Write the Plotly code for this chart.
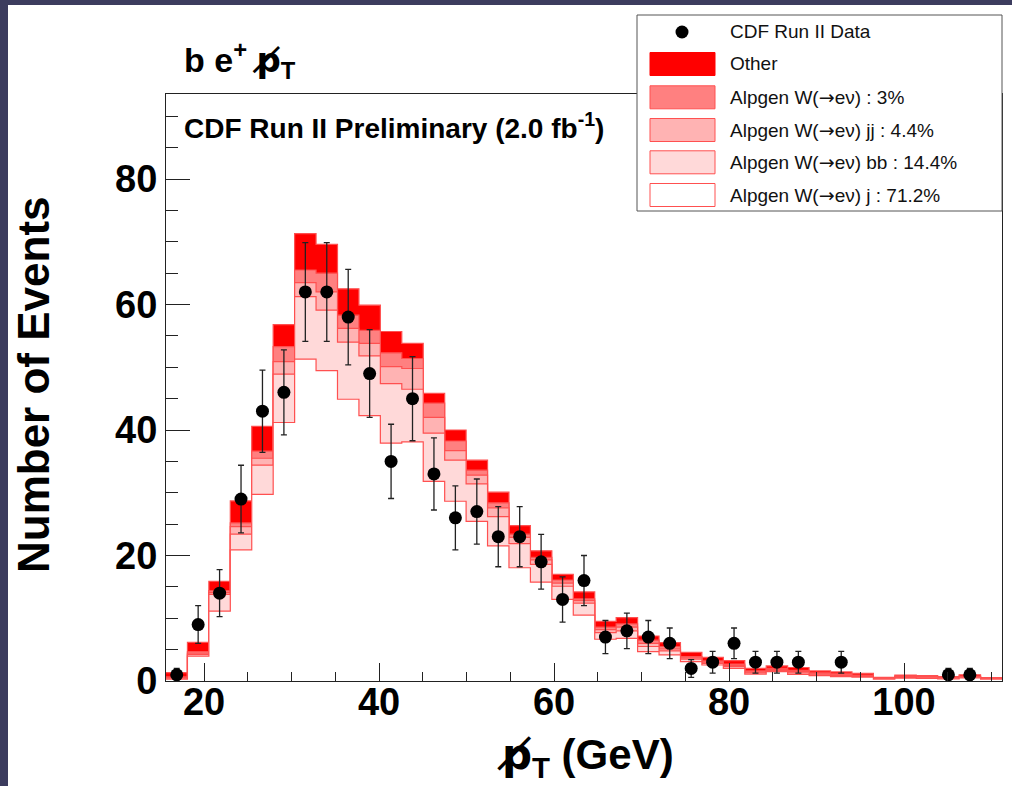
import numpy as np
import plotly.graph_objects as go

# ---- binning (missing E_T, GeV) ----
BIN_LO = 15.65
BIN_W = 2.45
N_BINS = 39
edges = [BIN_LO + BIN_W * i for i in range(N_BINS + 1)]
centers = [e + BIN_W / 2 for e in edges[:-1]]

# ---- observed events per bin ----
data_counts = [1, 9, 14, 29, 43, 46, 62, 62, 58, 49,
               35, 45, 33, 26, 27, 23, 23, 19, 13, 16,
               7, 8, 7, 6, 2, 3, 6, 3, 3, 3,
               0, 3, 0, 0, 0, 0, 1, 1, 0]

# ---- expected events per bin, by process ----
w_j = [0.3, 3.95, 11.15, 20.9, 29.75, 41.2, 51.3, 49.45, 44.9, 42.3,
       37.9, 38.1, 31.8, 28.65, 25.45, 21.55, 18.05, 15.75, 13.0, 10.5,
       6.65, 6.8, 4.67, 4.15, 3.1, 2.55, 2.0, 1.1, 1.5, 1.05,
       0.85, 0.7, 0.6, 0.3, 0.45, 0.4, 0.35, 0.5, 0.3]
w_bb = [0.15, 0.3, 2.65, 2.5, 4.65, 7.7, 9.95, 9.65, 9.1, 9.5,
        9.5, 8.4, 7.7, 6.55, 5.95, 4.65, 3.85, 2.85, 2.1, 1.9,
        1.05, 1.2, 0.83, 0.65, 0.4, 0.25, 0.3, 0.2, 0.2, 0.25,
        0.15, 0.15, 0.15, 0.05, 0.1, 0.1, 0.1, 0.1, 0.05]
w_jj = [0.1, 0.2, 0.3, 1.2, 1.1, 2.0, 2.25, 2.9, 2.2, 2.0,
        2.7, 3.3, 2.5, 1.5, 1.4, 1.4, 1.0, 0.7, 0.5, 0.4,
        0.5, 0.6, 0.5, 0.3, 0.2, 0.2, 0.2, 0.1, 0.1, 0.2,
        0.15, 0.15, 0.1, 0.05, 0.1, 0.1, 0.05, 0.1, 0.05]
w_incl = [0.1, 0.25, 0.3, 0.6, 1.15, 2.4, 2.0, 3.0, 2.1, 2.1,
          2.2, 1.6, 2.3, 1.55, 0.8, 0.8, 0.5, 0.4, 0.5, 0.3,
          0.4, 0.5, 0.5, 0.4, 0.2, 0.2, 0.2, 0.2, 0.2, 0.2,
          0.15, 0.15, 0.1, 0.05, 0.1, 0.1, 0.05, 0.1, 0.05]
other = [0.7, 1.45, 1.5, 3.5, 3.95, 3.5, 5.8, 4.6, 4.2, 4.0,
         3.4, 2.4, 1.55, 1.75, 1.6, 1.7, 1.35, 1.05, 0.9, 1.1,
         0.9, 1.0, 0.67, 0.6, 0.67, 0.57, 0.54, 0.42, 0.4, 0.45,
         0.3, 0.3, 0.25, 0.13, 0.18, 0.15, 0.15, 0.2, 0.1]

ARROW = '<span style="font-family:DejaVu Sans">\u2192</span>'
PSLASH = '<span style="font-family:DejaVu Sans">p\u0338</span>'
legend_labels = ["CDF Run II Data", "Other",
                 f"Alpgen W({ARROW}e\u03bd) : 3%",
                 f"Alpgen W({ARROW}e\u03bd) jj : 4.4%",
                 f"Alpgen W({ARROW}e\u03bd) bb : 14.4%",
                 f"Alpgen W({ARROW}e\u03bd) j : 71.2%"]

FILL_OTHER = "#ff0000"
FILL_W = "#ff8080"
FILL_JJ = "#ffb3b3"
FILL_BB = "#ffd9d9"
FILL_J = "#ffffff"
EDGE = "#ff5050"
FONT = "Liberation Sans"

W_PX, H_PX = 1012, 786
L, R, T, B = 166, 10, 94, 105
PW, PH = W_PX - L - R, H_PX - T - B


def px(x):
    return (x - L) / PW


def py(y):
    return (H_PX - B - y) / PH


# cumulative stack levels, drawn from the tallest down
stack = np.cumsum(np.array([w_j, w_bb, w_jj, w_incl, other]), axis=0)
levels = [(stack[4], FILL_OTHER), (stack[3], FILL_W), (stack[2], FILL_JJ),
          (stack[1], FILL_BB), (stack[0], FILL_J)]

fig = go.Figure()
for vals, col in levels:
    yy = list(vals) + [vals[-1]]
    fig.add_trace(go.Scatter(
        x=edges, y=yy, mode="lines", line=dict(shape="hv", color=EDGE, width=1.2),
        fill="tozeroy", fillcolor=col, hoverinfo="skip", showlegend=False))

dx = [c for c, n in zip(centers, data_counts) if n > 0]
dy = [n for n in data_counts if n > 0]
fig.add_trace(go.Scatter(
    x=dx, y=dy, mode="markers",
    marker=dict(size=13, color="black"),
    error_y=dict(type="data", array=list(np.sqrt(dy)), color="#222222",
                 thickness=1.3, width=3),
    showlegend=False))

tick_font = dict(family=FONT, size=38, color="black", weight="bold")

fig.update_layout(
    xaxis=dict(range=[BIN_LO, BIN_LO + BIN_W * N_BINS], tickmode="linear", tick0=0, dtick=20,
               ticks="inside", ticklen=18, tickwidth=1.3, tickcolor="#222",
               ticklabelstandoff=-13,
               minor=dict(ticks="inside", dtick=5, tick0=0, ticklen=9,
                          tickcolor="#222", tickwidth=1),
               showgrid=False, zeroline=False, showline=True, linecolor="#222",
               linewidth=1, mirror=True, tickfont=tick_font),
    yaxis=dict(range=[0, 93.55], tickmode="linear", tick0=0, dtick=20,
               ticks="inside", ticklen=24, tickwidth=1.3, tickcolor="#222",
               minor=dict(ticks="inside", dtick=5, tick0=0, ticklen=12,
                          tickcolor="#222", tickwidth=1),
               showgrid=False, zeroline=False, showline=True, linecolor="#222",
               linewidth=1, mirror=True, tickfont=tick_font),
)

shapes = []
annotations = []

# slide background: navy edge strips
shapes.append(dict(type="rect", xref="paper", yref="paper", layer="below",
                   x0=px(0), x1=px(W_PX), y0=py(0), y1=py(5),
                   fillcolor="#3c3c5e", line_width=0))
shapes.append(dict(type="rect", xref="paper", yref="paper", layer="below",
                   x0=px(0), x1=px(8), y0=py(0), y1=py(H_PX),
                   fillcolor="#3c3c5e", line_width=0))

# legend box
shapes.append(dict(type="rect", xref="paper", yref="paper", layer="above",
                   x0=px(637), x1=px(1002), y0=py(15), y1=py(211),
                   fillcolor="white", line=dict(color="#555", width=1)))
shapes.append(dict(type="circle", xref="paper", yref="paper", layer="above",
                   x0=px(675.5), x1=px(688.5), y0=py(25.5), y1=py(38.5),
                   fillcolor="black", line_width=0))
box_rows = [(64, FILL_OTHER), (97.3, FILL_W), (130, FILL_JJ), (162.3, FILL_BB), (195, FILL_J)]
for yc, col in box_rows:
    shapes.append(dict(type="rect", xref="paper", yref="paper", layer="above",
                       x0=px(650), x1=px(715), y0=py(yc + 11.5), y1=py(yc - 11.5),
                       fillcolor=col,
                       line=dict(color=EDGE if col != FILL_OTHER else FILL_OTHER, width=1)))
row_y = [32, 64, 97.3, 130, 162.3, 195]
for lab, yc in zip(legend_labels, row_y):
    annotations.append(dict(xref="paper", yref="paper", x=px(728), y=py(yc),
                            xanchor="left", yanchor="middle", showarrow=False,
                            text=lab, font=dict(family=FONT, size=19, color="#111")))

# titles and labels
annotations.append(dict(xref="paper", yref="paper", x=px(33), y=py(385),
                        xanchor="center", yanchor="middle", showarrow=False, textangle=-90,
                        text="Number of Events",
                        font=dict(family=FONT, size=44, color="black", weight="bold")))
annotations.append(dict(xref="paper", yref="paper", x=px(585), y=py(757),
                        xanchor="center", yanchor="middle", showarrow=False,
                        text=f"{PSLASH}<sub>T</sub> (GeV)",
                        font=dict(family=FONT, size=42, color="black", weight="bold")))
annotations.append(dict(xref="paper", yref="paper", x=px(182), y=py(60),
                        xanchor="left", yanchor="middle", showarrow=False,
                        text=f"b e<sup>+</sup> {PSLASH}<sub>T</sub>",
                        font=dict(family=FONT, size=34, color="black", weight="bold")))
annotations.append(dict(xref="paper", yref="paper", x=px(182), y=py(126),
                        xanchor="left", yanchor="middle", showarrow=False,
                        text="CDF Run II Preliminary (2.0 fb<sup>-1</sup>)",
                        font=dict(family=FONT, size=28, color="black", weight="bold")))

fig.update_layout(
    width=W_PX, height=H_PX,
    margin=dict(l=L, r=R, t=T, b=B, pad=0),
    paper_bgcolor="white", plot_bgcolor="white",
    showlegend=False, shapes=shapes, annotations=annotations,
)

fig.write_html("out.html")
